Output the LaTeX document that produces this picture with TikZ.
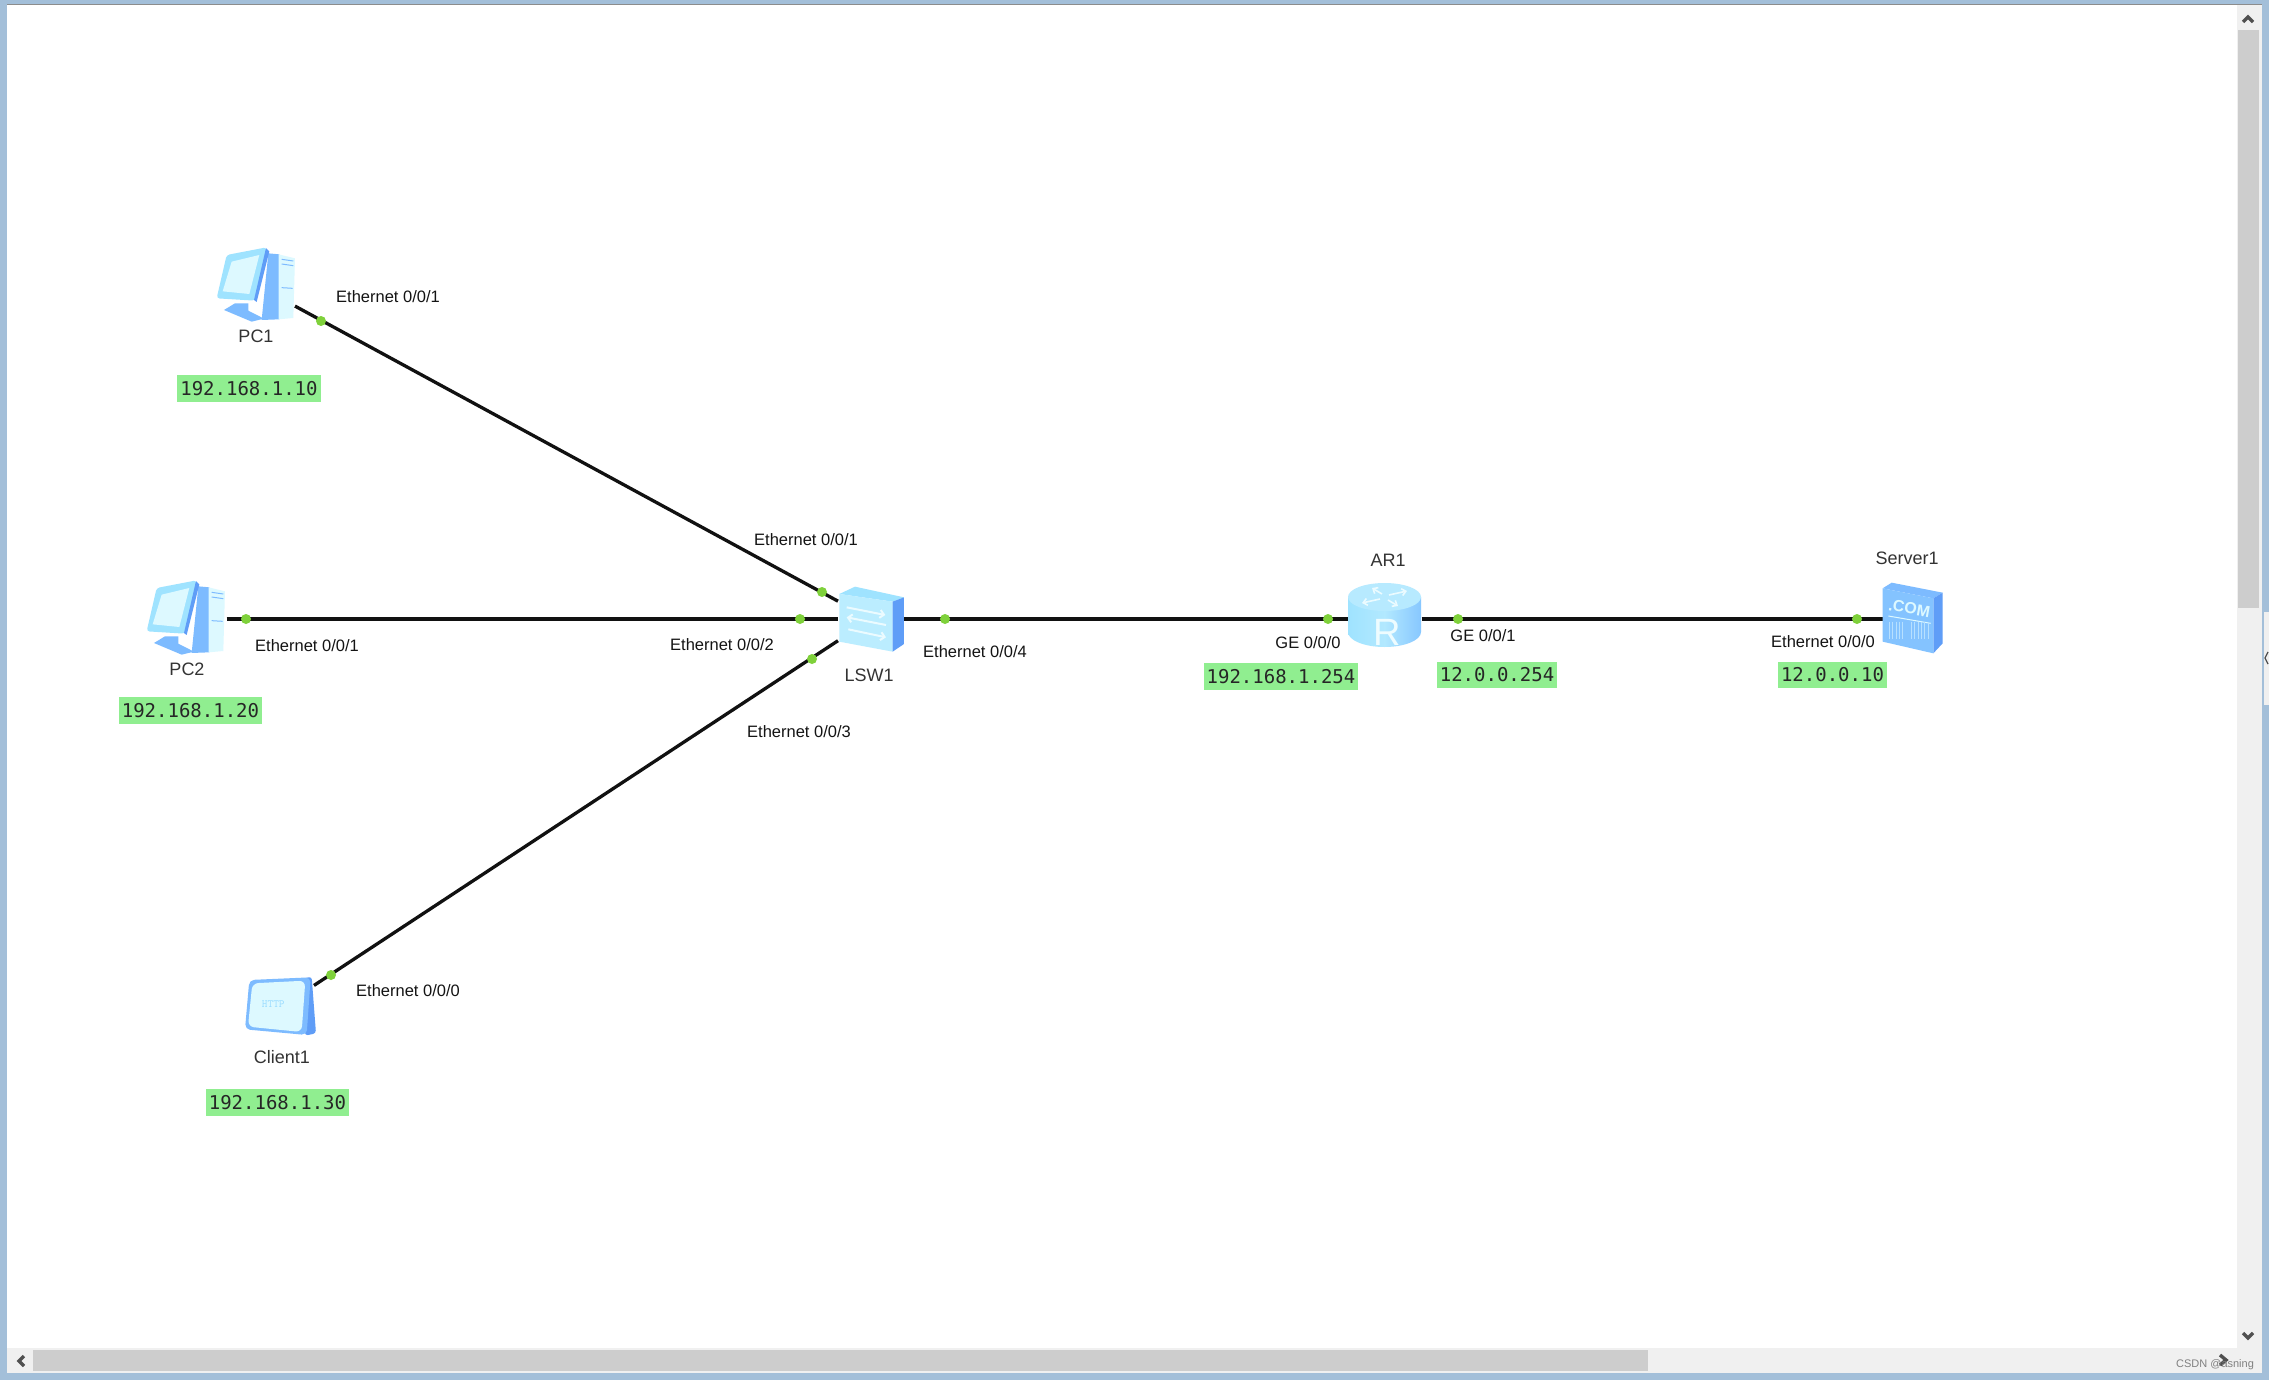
\documentclass[tikz,border=0pt]{standalone}
\usepackage{fontspec}
\setmainfont{Liberation Sans}
\newfontfamily\ipmono{DejaVu Sans Mono}
\usetikzlibrary{arrows.meta,shapes.geometric}
\definecolor{frameblue}{HTML}{A3BFD9}
\definecolor{trackgray}{HTML}{F0F0F0}
\definecolor{thumbgray}{HTML}{CDCDCD}
\definecolor{chevgray}{HTML}{505050}
\definecolor{linkblack}{HTML}{111111}
\definecolor{portgreen}{HTML}{7FD13B}
\definecolor{ipgreen}{HTML}{90EE90}
\definecolor{icondark}{HTML}{5F9DF7}
\definecolor{iconmid}{HTML}{7DBBFF}
\definecolor{iconsky}{HTML}{9FE3FF}
\definecolor{iconpale}{HTML}{DDF9FF}
\tikzset{
  device/.style={rectangle,inner sep=0pt,outer sep=0pt},
  link/.style={draw=linkblack,line width=3.3pt},
  port/.style={circle,fill=portgreen,inner sep=0pt,minimum size=10pt},
  portlabel/.style={font=\fontsize{16.5}{18}\selectfont,text=black!92,inner sep=0pt},
  devlabel/.style={font=\fontsize{18}{20}\selectfont,text=black!80,inner sep=0pt},
  ipbox/.style={fill=ipgreen,rectangle,inner sep=0pt,font=\ipmono\fontsize{19}{21}\selectfont,text=black!85},
  chev/.style={draw=chevgray,line width=3.4pt,line cap=butt,line join=miter},
  arrowic/.style={draw=iconpale!60!white,line width=2pt,-{Straight Barb[length=4pt,width=8pt]}},
}
\newcommand{\pcicon}[2]{%
  \begin{scope}[shift={(#1,#2)},x=0.3333pt,y=-0.3333pt]
    \fill[iconmid] (345,250)--(385,250)--(385,272)--(432,296)--(395,305)--(312,270)--cycle;
    \fill[iconmid] (445,100)--(478,103)--(478,298)--(425,300)--cycle;
    \fill[iconpale] (476,103)--(525,115)--(520,294)--(476,298)--cycle;
    \draw[iconmid,line width=1pt] (485,118)--(520,123) (485,132)--(520,137) (485,203)--(518,205);
    \fill[iconsky,rounded corners=3pt] (320,105)--(440,82)--(405,242)--(290,235)--cycle;
    \fill[iconpale] (335,125)--(418,105)--(388,222)--(308,214)--cycle;
    \fill[icondark] (438,84)--(448,94)--(410,246)--(402,240)--cycle;
  \end{scope}}
\begin{document}
\begin{tikzpicture}[x=1pt,y=-1pt]
\useasboundingbox (0,0) rectangle (2269,1380);
% window
\fill[frameblue] (0,0) rectangle (2269,1380);
\fill[white] (7,5) rectangle (2237,1348);
\draw[black!45,line width=1pt] (7,5)--(2262,5);
\fill[trackgray] (2237,5) rectangle (2262,1373);
\fill[trackgray] (7,1348) rectangle (2262,1373);
\fill[thumbgray] (2238,30) rectangle (2259,608);
\fill[thumbgray] (33,1350) rectangle (1648,1371);
\draw[chev] (2243,22)--(2248,17)--(2253,22);
\draw[chev] (2243,1333)--(2248,1338)--(2253,1333);
\draw[chev] (24,1356)--(19,1361)--(24,1366);
\draw[chev] (2220,1355)--(2226,1360)--(2220,1365);
\fill[trackgray] (2264,612) rectangle (2269,705);
\draw[chevgray,line width=1.2pt] (2268,652)--(2265,658)--(2268,664);
\node (mark) at (2215,1365) [inner sep=0pt,text=black!50,font=\fontsize{11}{12}\selectfont] {CSDN @asning};
% device footprints
\node[device,minimum width=78pt,minimum height=75pt] (pc1) at (256,285) {};
\node[device,minimum width=79pt,minimum height=76pt] (pc2) at (187,619) {};
\node[device,minimum width=66pt,minimum height=59pt] (client1) at (281,1007) {};
\node[device,minimum width=66pt,minimum height=66pt] (lsw1) at (871,619) {};
\node[device,minimum width=73pt,minimum height=66pt] (ar1) at (1385,619) {};
\node[device,minimum width=60pt,minimum height=72pt] (server1) at (1913,619) {};
% links
\draw[link] (pc1)--(lsw1);
\draw[link] (pc2)--(lsw1);
\draw[link] (client1)--(lsw1);
\draw[link] (lsw1)--(ar1);
\draw[link] (ar1)--(server1);
% PC icons
\pcicon{120}{220}
\pcicon{50}{553}
% client icon
\begin{scope}[shift={(190,950)},x=0.3333pt,y=-0.3333pt]
  \fill[icondark,rounded corners=3pt] (340,85)--(365,80)--(378,250)--(345,257)--cycle;
  \fill[iconmid,rounded corners=5pt] (178,90)--(362,82)--(350,255)--(165,238)--cycle;
  \fill[iconpale,rounded corners=6pt] (187,100)--(346,92)--(335,246)--(174,230)--cycle;
  \node (httptext) at (250,161) [inner sep=0pt,text=iconsky!80!iconmid,font=\ttfamily\fontsize{11}{12}\selectfont] {HTTP};
\end{scope}
% switch icon
\begin{scope}[shift={(780,520)},x=0.3333pt,y=-0.3333pt]
  \fill[iconsky] (178,222)--(225,200)--(372,232)--(338,245)--cycle;
  \fill[iconpale!45!iconsky] (178,222)--(338,245)--(338,395)--(178,365)--cycle;
  \fill[icondark] (338,245)--(372,232)--(372,372)--(338,395)--cycle;
  \draw[arrowic] (200,262)--(316,285);
  \draw[arrowic] (318,315)--(200,292);
  \draw[arrowic] (205,328)--(318,352);
\end{scope}
% router icon
\begin{scope}
  \path[left color=iconsky,right color=iconmid!70!iconsky,middle color=iconsky!80!white]
    (1348,597)--(1348,632) arc[start angle=180,end angle=360,x radius=36.5pt,y radius=15pt]--(1421,597)--cycle;
  \fill[iconsky!75!white] (1384.5,597) ellipse[x radius=36.5pt,y radius=14pt];
  \draw[arrowic,line width=1.6pt,-{Straight Barb[length=4pt,width=7pt]}] (1380,599)--(1362,603);
  \draw[arrowic,line width=1.6pt,-{Straight Barb[length=4pt,width=7pt]}] (1389,595)--(1407,591);
  \draw[arrowic,line width=1.6pt,-{Straight Barb[length=4pt,width=7pt]}] (1382,594)--(1372,588);
  \draw[arrowic,line width=1.6pt,-{Straight Barb[length=4pt,width=7pt]}] (1388,600)--(1398,606);
  \node (rletter) at (1387,632) [inner sep=0pt,text=iconpale!50!white,font=\fontsize{38}{40}\selectfont] {R};
\end{scope}
% server icon
\begin{scope}[shift={(1770,540)},x=0.3333pt,y=-0.3333pt]
  \fill[iconmid] (338,145)--(365,128)--(518,158)--(490,175)--cycle;
  \fill[icondark] (490,175)--(518,158)--(518,310)--(490,340)--cycle;
  \fill[iconmid!80!iconsky] (338,145)--(490,175)--(490,340)--(338,305)--cycle;
  \node (comtext) at (418,205) [inner sep=0pt,rotate=-10,text=iconpale,font=\bfseries\fontsize{16}{18}\selectfont] {.COM};
  \draw[iconpale,line width=1pt] (355,228)--(482,250);
  \foreach \bx in {358,368,378,388,398,424,434,444,454,464,474}
    \draw[iconpale!60!iconmid,line width=1pt] (\bx,245)--(\bx,298);
\end{scope}
% ports
\node[port] (p1) at (321,321) {};
\node[port] (p2) at (822,592) {};
\node[port] (p3) at (246,619) {};
\node[port] (p4) at (800,619) {};
\node[port] (p5) at (331,975) {};
\node[port] (p6) at (812,659) {};
\node[port] (p7) at (945,619) {};
\node[port] (p8) at (1328,619) {};
\node[port] (p9) at (1458,619) {};
\node[port] (p10) at (1857,619) {};
% device labels
\node[devlabel] (l1) at (256,336) {PC1};
\node[devlabel] (l2) at (187,669) {PC2};
\node[devlabel] (l3) at (282,1057) {Client1};
\node[devlabel] (l4) at (869,675) {LSW1};
\node[devlabel] (l5) at (1388,560) {AR1};
\node[devlabel] (l6) at (1907,558) {Server1};
% port labels
\node[portlabel] (t1) at (388,297) {Ethernet 0/0/1};
\node[portlabel] (t2) at (806,540) {Ethernet 0/0/1};
\node[portlabel] (t3) at (307,646) {Ethernet 0/0/1};
\node[portlabel] (t4) at (722,645) {Ethernet 0/0/2};
\node[portlabel] (t5) at (799,732) {Ethernet 0/0/3};
\node[portlabel] (t6) at (975,652) {Ethernet 0/0/4};
\node[portlabel] (t7) at (408,991) {Ethernet 0/0/0};
\node[portlabel] (t8) at (1308,643) {GE 0/0/0};
\node[portlabel] (t9) at (1483,636) {GE 0/0/1};
\node[portlabel] (t10) at (1823,642) {Ethernet 0/0/0};
% addresses
\node[ipbox,minimum width=144pt,minimum height=27pt] (ip1) at (249,388.5) {192.168.1.10};
\node[ipbox,minimum width=143pt,minimum height=27pt] (ip2) at (190.5,710.5) {192.168.1.20};
\node[ipbox,minimum width=143pt,minimum height=27pt] (ip3) at (277.5,1102.5) {192.168.1.30};
\node[ipbox,minimum width=154pt,minimum height=27pt] (ip4) at (1281,676.5) {192.168.1.254};
\node[ipbox,minimum width=120pt,minimum height=26pt] (ip5) at (1497,675) {12.0.0.254};
\node[ipbox,minimum width=109pt,minimum height=26pt] (ip6) at (1832.5,675) {12.0.0.10};
\end{tikzpicture}
\end{document}
